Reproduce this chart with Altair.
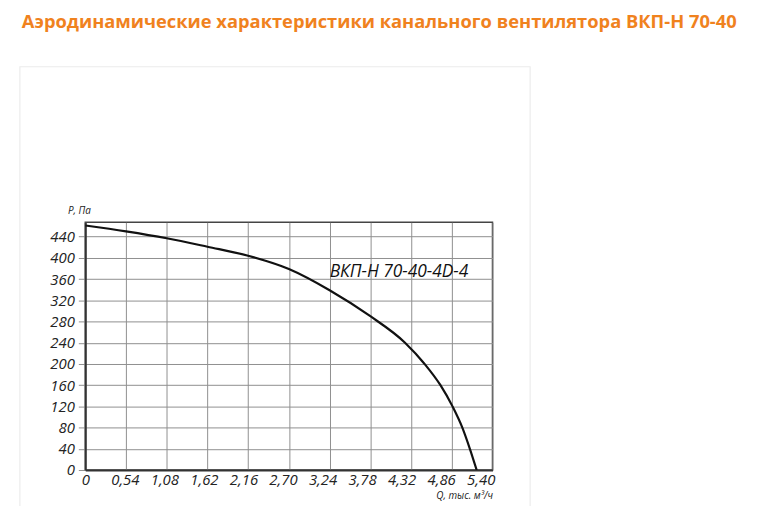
import altair as alt
import pandas as pd

# Curve
q_values = [0, 0.54, 1.08, 1.62, 2.16, 2.70, 3.24, 3.78, 4.24, 4.50, 4.71, 4.87, 5.00, 5.10, 5.19]
p_values = [461, 450, 437, 421, 404, 379, 339, 290, 240, 200, 160, 120, 80, 40, 0]

x_ticks = [0, 0.54, 1.08, 1.62, 2.16, 2.70, 3.24, 3.78, 4.32, 4.86, 5.40]
y_ticks = [0, 40, 80, 120, 160, 200, 240, 280, 320, 360, 400, 440]

label_text = ["ВКП-Н 70-40-4D-4"]
label_q = [4.16]
label_p = [373]

title_text = "Аэродинамические характеристики канального вентилятора ВКП-Н 70-40"

curve_df = pd.DataFrame({"Q": q_values, "P": p_values})
label_df = pd.DataFrame({"Q": label_q, "P": label_p, "t": label_text})
frame_df = pd.DataFrame({"k": [0]})

FONT = "Open Sans"

x_scale = alt.Scale(domain=[0, 5.4], nice=False, zero=False)
y_scale = alt.Scale(domain=[0, 467], nice=False)

x_axis = alt.Axis(
    values=x_ticks,
    labelExpr="datum.value == 0 ? '0' : replace(format(datum.value, '.2f'), '.', ',')",
    labelOffset=alt.ExprRef("-2.2 * datum.value"),
    title="Q, тыс. м³/ч",
    titleX=411, titleY=26, titleAlign="right", titleBaseline="middle",
    titleFont=FONT, titleFontStyle="italic", titleFontWeight="normal",
    titleFontSize=10, titleColor="#222",
    labelFont=FONT, labelFontStyle="italic", labelFontSize=15, labelColor="#222",
    labelPadding=3, ticks=False,
    domainColor="#333", domainWidth=2,
    grid=True, gridColor="#8f8f8f", gridWidth=1,
    labelFlush=False, labelOverlap=False, labelBound=False,
)
y_axis = alt.Axis(
    values=y_ticks,
    title="P, Па",
    titleAngle=0, titleX=-18, titleY=-12, titleAlign="left", titleBaseline="middle",
    titleFont=FONT, titleFontStyle="italic", titleFontWeight="normal",
    titleFontSize=10, titleColor="#222",
    labelFont=FONT, labelFontStyle="italic", labelFontSize=15, labelColor="#222",
    labelPadding=4, ticks=True, tickSize=7, tickColor="#8f8f8f", tickWidth=1,
    domainColor="#333", domainWidth=2,
    grid=True, gridColor="#8f8f8f", gridWidth=1,
    labelFlush=False, labelOverlap=False, labelBound=False,
)

# faint card frame around the figure (decoration)
frame = alt.Chart(frame_df).mark_rect(
    fill="white", fillOpacity=0, stroke="#ececec", strokeWidth=1.2
).encode(
    x=alt.value(-66), x2=alt.value(449), y=alt.value(-157), y2=alt.value(300)
)

curve = alt.Chart(curve_df).mark_line(
    color="#111", strokeWidth=2.2, interpolate="monotone", clip=True
).encode(
    x=alt.X("Q:Q", scale=x_scale, axis=x_axis),
    y=alt.Y("P:Q", scale=y_scale, axis=y_axis),
)

label = alt.Chart(label_df).mark_text(
    font=FONT, fontStyle="italic", fontSize=17.5, color="#111", align="center", baseline="middle"
).encode(
    x=alt.X("Q:Q", scale=x_scale, axis=x_axis),
    y=alt.Y("P:Q", scale=y_scale, axis=y_axis),
    text="t:N",
)

chart = alt.layer(frame, curve, label).properties(
    width=411,
    height=250,
    autosize=alt.AutoSizeParams(type="none"),
    padding={"left": 78, "top": 214, "right": 270, "bottom": 34},
    title=alt.TitleParams(
        text=title_text, anchor="start", frame="group",
        dx=-64, offset=35, font=FONT, fontSize=18.5, fontWeight="bold",
        color="#F0821E",
    ),
    background="white",
).configure_view(stroke="#444", strokeWidth=1.5).configure_axis(labelOverlap=False)

chart.save("out.html", embed_options={"renderer": "svg", "actions": False})
